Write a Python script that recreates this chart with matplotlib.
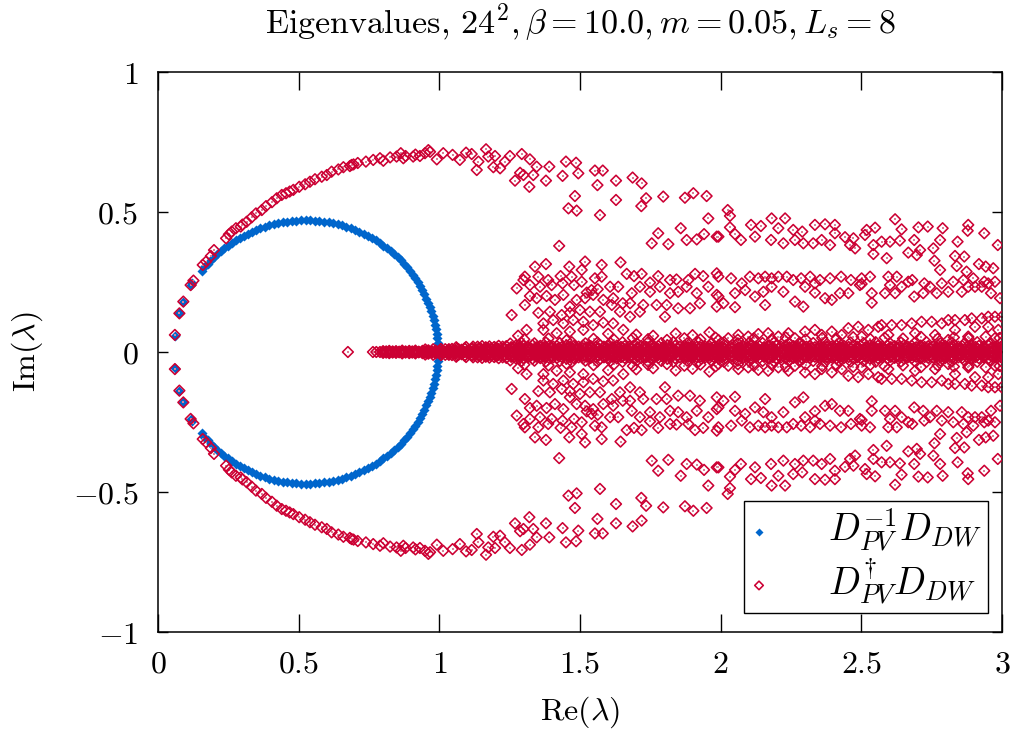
import numpy as np
import matplotlib
matplotlib.use('Agg')
import matplotlib.pyplot as plt

plt.rcParams['mathtext.fontset'] = 'cm'
plt.rcParams['font.family'] = 'serif'
plt.rcParams['font.serif'] = ['DejaVu Serif']

# ---------------- text ----------------
title = r'$\mathrm{Eigenvalues,}\,24^2, \beta = 10.0, m = 0.05, L_s = 8$'
xlabel = r'$\mathrm{Re}(\lambda)$'
ylabel = r'$\mathrm{Im}(\lambda)$'
xticks = [0, 0.5, 1, 1.5, 2, 2.5, 3]
xticklabels = [r'$0$', r'$0.5$', r'$1$', r'$1.5$', r'$2$', r'$2.5$', r'$3$']
yticks = [-1, -0.5, 0, 0.5, 1]
yticklabels = [r'$-1$', r'$-0.5$', r'$0$', r'$0.5$', r'$1$']
series_labels = [r'$D_{PV}^{-1}D_{DW}$', r'$D_{PV}^{\dagger}D_{DW}$']

# ---------------- data (upper half, Im >= 0; spectrum is conjugate-symmetric) ----------------
blue_x = [0.060, 0.076, 0.090, 0.116, 0.121,
          0.155, 0.165, 0.176, 0.188, 0.199, 0.211, 0.223, 0.236, 0.249, 0.262,
          0.276, 0.290, 0.304, 0.319, 0.334, 0.349, 0.364, 0.380, 0.395, 0.411,
          0.427, 0.443, 0.460, 0.476, 0.492, 0.509, 0.525, 0.541, 0.558, 0.574,
          0.590, 0.607, 0.623, 0.639, 0.655, 0.670, 0.686, 0.701, 0.716, 0.731,
          0.746, 0.760, 0.774, 0.788, 0.801, 0.814, 0.827, 0.839, 0.852, 0.863,
          0.874, 0.885, 0.895, 0.905, 0.915, 0.924, 0.932, 0.940, 0.947, 0.954,
          0.961, 0.967, 0.972, 0.977, 0.981, 0.985, 0.988, 0.990, 0.992, 0.994,
          0.995, 0.995]
blue_y = [0.057, 0.138, 0.180, 0.239, 0.248,
          0.289, 0.302, 0.315, 0.327, 0.338, 0.349, 0.360, 0.370, 0.380, 0.390,
          0.399, 0.407, 0.415, 0.422, 0.429, 0.436, 0.442, 0.447, 0.452, 0.456,
          0.460, 0.463, 0.465, 0.467, 0.469, 0.470, 0.470, 0.470, 0.469, 0.467,
          0.465, 0.463, 0.460, 0.456, 0.452, 0.447, 0.442, 0.436, 0.429, 0.422,
          0.415, 0.407, 0.399, 0.390, 0.380, 0.370, 0.360, 0.349, 0.338, 0.327,
          0.315, 0.302, 0.289, 0.276, 0.263, 0.249, 0.235, 0.221, 0.206, 0.191,
          0.176, 0.161, 0.145, 0.130, 0.114, 0.098, 0.082, 0.065, 0.049, 0.033,
          0.016, 0.0]

red_outer = [(.060,.061),(.076,.138),(.090,.180),(.116,.239),(.126,.255),(.159,.311),(.171,.323),
    (.188,.343),(.199,.364),(.242,.406),(.252,.420),(.262,.430),(.277,.442),(.294,.448),(.300,.455),
    (.315,.465),(.333,.481),(.348,.495),(.369,.507),(.384,.521),(.405,.535),(.422,.549),(.440,.561),
    (.455,.567),(.468,.573),(.481,.579),(.502,.590),(.523,.599),(.540,.608),(.558,.617),(.582,.626),
    (.600,.632),(.617,.644),(.641,.652),(.659,.660),(.682,.664),(.688,.668),(.695,.670),(.710,.675),
    (.739,.680),(.765,.686),(.789,.692),(.801,.683),(.825,.695),(.848,.698),(.863,.710),(.872,.692),
    (.880,.700),(.907,.698),(.915,.705),(.931,.700),(.949,.710),(.961,.721),(.991,.688),(.967,.715),
    (1.014,.710),(1.047,.704),(1.073,.686),(1.095,.712),(1.115,.707),(1.139,.680),(1.133,.650),
    (1.166,.724),(1.174,.698),(1.198,.700),(1.192,.660),(1.216,.656),(1.233,.680),(1.251,.700),
    (1.269,.612),(1.287,.640),(1.293,.707),(1.299,.632),(1.320,.590),(1.322,.688),(1.334,.632),
    (1.346,.662),(1.379,.612),(1.391,.662),(1.438,.629),(1.450,.680),(1.486,.676),(1.494,.638),
    (1.482,.557),(1.459,.513),(1.488,.505),(1.553,.648),(1.562,.596),(1.581,.648),(1.571,.489),
    (1.628,.612),(1.628,.543),(1.687,.623),(1.719,.602),(1.735,.549),(1.718,.521),(1.796,.555),
    (1.873,.551),(1.903,.567),(1.950,.557),(1.956,.477),(1.858,.442),(1.778,.424),(1.755,.388),
    (1.814,.385),(1.879,.400),(1.915,.402),(1.941,.421),(1.986,.412),(1.426,.379)]

red_band45 = [(2.025,.507),(2.033,.486),(1.992,.412),(2.033,.445),(2.051,.421),(2.072,.400),(2.108,.454),
    (2.143,.450),(2.122,.412),(2.181,.477),(2.205,.442),(2.229,.477),(2.179,.400),(2.223,.388),
    (2.258,.436),(2.290,.430),(2.264,.400),(2.294,.388),(2.329,.388),(2.335,.454),(2.371,.456),
    (2.406,.454),(2.359,.400),(2.389,.382),(2.406,.424),(2.442,.410),(2.472,.406),(2.460,.382),
    (2.478,.370),(2.519,.436),(2.549,.444),(2.513,.418),(2.543,.382),(2.543,.350),(2.590,.335),
    (2.572,.394),(2.602,.394),(2.637,.398),(2.620,.474),(2.643,.438),(2.703,.445),(2.736,.448),
    (2.789,.442),(2.688,.400),(2.667,.355),(2.697,.346),(2.709,.364),(2.756,.370),(2.760,.326),
    (2.780,.293),(2.780,.400),(2.842,.394),(2.833,.343),(2.866,.341),(2.839,.307),(2.880,.454),
    (2.878,.433),(2.937,.424),(2.918,.314),(2.942,.305),(2.969,.299),(2.874,.287),(2.985,.382)]

red_band25 = [(1.340,.305),(1.379,.314),(1.462,.305),(1.518,.323),(1.577,.311),(1.644,.320),
    (1.304,.269),(1.352,.269),(1.387,.257),(1.431,.271),(1.470,.269),(1.506,.293),(1.553,.263),
    (1.577,.269),(1.275,.227),(1.299,.257),(1.322,.239),(1.358,.233),(1.399,.239),(1.438,.245),
    (1.479,.239),(1.506,.251),(1.524,.212),(1.541,.221),(1.563,.224),(1.607,.233),(1.636,.233),
    (1.666,.279),(1.692,.271),(1.719,.279),(1.749,.248),(1.778,.271),(1.820,.257),(1.843,.259),
    (1.885,.257),(1.909,.279),(1.938,.271),(1.986,.281),(1.257,.132),(1.304,.168),(1.322,.200),
    (1.346,.192),(1.381,.200),(1.411,.186),(1.441,.204),(1.464,.162),(1.488,.186),(1.518,.192),
    (1.547,.204),(1.583,.186),(1.618,.192),(1.652,.174),(1.684,.210),(1.713,.233),(1.749,.215),
    (1.784,.233),(1.820,.210),(1.849,.215),(1.879,.233),(1.915,.210),(1.956,.233),(1.986,.204),
    (1.678,.174),(1.725,.168),(1.772,.168),(1.808,.168),(1.849,.156),(1.891,.156),(1.926,.174),
    (1.986,.162),(1.352,.140),(1.393,.144),(1.435,.132),(1.464,.140),(1.500,.150),(1.535,.144),
    (1.571,.144),(1.613,.168),(1.642,.144),(1.678,.126),(1.713,.144),(1.802,.126),
    (1.992,.269),(2.037,.263),(2.075,.245),(2.104,.269),(2.134,.263),(2.158,.269),(2.181,.263),
    (2.205,.269),(2.235,.269),(2.258,.257),(2.286,.263),(2.318,.269),(2.353,.257),(2.389,.263),
    (2.428,.269),(2.463,.257),(2.501,.263),(2.531,.269),(2.596,.269),(2.626,.269),(2.681,.257),
    (2.724,.245),(2.786,.245),(2.827,.251),(2.863,.257),(2.898,.263),(2.937,.251),(2.975,.251),
    (1.992,.198),(2.010,.174),(2.051,.160),(2.051,.210),(2.087,.221),(2.122,.198),(2.158,.168),
    (2.152,.215),(2.181,.233),(2.223,.215),(2.264,.180),(2.294,.162),(2.300,.233),(2.335,.212),
    (2.371,.192),(2.395,.186),(2.424,.210),(2.454,.210),(2.495,.239),(2.537,.210),(2.537,.176),
    (2.584,.210),(2.620,.210),(2.643,.233),(2.688,.198),(2.720,.210),(2.744,.233),(2.768,.210),
    (2.809,.215),(2.857,.215),(2.904,.233),(2.928,.233),(2.961,.210),(2.993,.192),(2.335,.245),
    (2.501,.243),(2.602,.239),(2.667,.251),(2.880,.233),(2.951,.245)]

red_band10 = [(1.310,.079),(1.370,.102),(1.405,.114),(1.441,.102),(1.476,.114),(1.512,.108),
    (1.547,.096),(1.583,.105),(1.618,.102),(1.654,.079),(1.370,.079),(1.417,.067),(1.464,.073),
    (1.512,.079),(1.280,.058),(1.600,.065),(1.700,.062),(1.760,.058),(1.840,.066),(1.900,.060),
    (1.960,.070),(1.992,.043),(2.027,.049),(2.063,.061),(2.098,.055),(2.134,.064),(2.169,.067),
    (2.205,.055),(2.241,.067),(2.264,.049),(2.300,.073),(2.335,.079),(2.359,.061),(2.395,.073),
    (2.430,.061),(2.454,.085),(2.489,.090),(2.525,.079),(2.560,.090),(2.572,.096),(2.608,.096),
    (2.643,.096),(2.679,.102),(2.714,.108),(2.750,.108),(2.786,.102),(2.809,.114),(2.833,.114),
    (2.868,.114),(2.892,.120),(2.928,.120),(2.951,.126),(2.975,.126),(2.999,.126),(2.501,.055),
    (2.596,.061),(2.691,.067),(2.762,.061),(2.833,.079),(2.904,.090),(2.951,.090),(2.987,.079),
    (2.975,.049),(2.880,.055),(2.809,.043)]

red_core1 = [(0.800,.003),(0.822,.004),(0.846,.003),(0.868,.005),(0.893,.004),(0.915,.005),(0.940,.004),
    (0.961,.006),(0.987,.005),(1.010,.006),(1.033,.007),(1.057,.006),(1.079,.008),(1.104,.007),
    (1.126,.008),(1.151,.007),(1.173,.009),(1.198,.008),(1.220,.007),(1.245,.009),(1.268,.008),
    (1.292,.007),(1.315,.009),(1.340,.008),(1.362,.006),(1.387,.009),(1.410,.008),(1.434,.007),
    (1.457,.009),(1.482,.008),(1.505,.006),(1.529,.009),(1.552,.008),(1.577,.007),(1.600,.009),
    (1.624,.008),(1.647,.006),(1.672,.009),(1.695,.008),(1.719,.007),(1.743,.009),(1.766,.008),
    (1.790,.006),(1.814,.009),(1.837,.008),(1.861,.007),(1.885,.009),(1.908,.008),(1.932,.006),
    (1.956,.009),(1.979,.008),(2.003,.007),(2.027,.009),(2.050,.008),(2.074,.006),(2.098,.009),
    (2.121,.008),(2.145,.007),(2.169,.009),(2.192,.008),(2.216,.006),(2.240,.009),(2.263,.008),
    (2.287,.007),(2.311,.009),(2.334,.008),(2.358,.006),(2.382,.009),(2.405,.008),(2.429,.007),
    (2.453,.009),(2.476,.008),(2.500,.006),(2.524,.009),(2.547,.008),(2.571,.007),(2.595,.009),
    (2.618,.008),(2.642,.006),(2.666,.009),(2.689,.008),(2.713,.007),(2.737,.009),(2.760,.008),
    (2.784,.006),(2.808,.009),(2.831,.008),(2.855,.007),(2.879,.009),(2.902,.008),(2.926,.006),
    (2.950,.009),(2.973,.008),(2.995,.007)]

red_core1b = [(0.811,.002),(0.834,.002),(0.857,.001),(0.880,.002),(0.904,.002),(0.927,.001),(0.950,.002),
    (0.974,.002),(0.998,.003),(1.021,.010),(1.045,.011),(1.068,.010),(1.091,.011),(1.115,.012),
    (1.138,.011),(1.162,.010),(1.185,.012),(1.209,.011),(1.232,.010),(1.256,.012),(1.280,.011),
    (1.303,.010),(1.327,.012),(1.351,.011),(1.374,.010),(1.398,.012),(1.422,.011),(1.445,.010),
    (1.469,.012),(1.493,.011),(1.517,.010),(1.540,.012),(1.564,.011),(1.588,.010),(1.612,.012),
    (1.635,.011),(1.659,.010),(1.683,.012),(1.707,.011),(1.731,.010),(1.754,.012),(1.778,.011),
    (1.802,.010),(1.825,.012),(1.849,.011),(1.873,.010),(1.896,.012),(1.920,.011),(1.944,.010),
    (1.967,.012),(1.991,.011),(2.015,.010),(2.038,.012),(2.062,.011),(2.086,.010),(2.109,.012),
    (2.133,.011),(2.157,.010),(2.180,.012),(2.204,.011),(2.228,.010),(2.251,.012),(2.275,.011),
    (2.299,.010),(2.322,.012),(2.346,.011),(2.370,.010),(2.393,.012),(2.417,.011),(2.441,.010),
    (2.464,.012),(2.488,.011),(2.512,.010),(2.535,.012),(2.559,.011),(2.583,.010),(2.606,.012),
    (2.630,.011),(2.654,.010),(2.677,.012),(2.701,.011),(2.725,.010),(2.748,.012),(2.772,.011),
    (2.796,.010),(2.819,.012),(2.843,.011),(2.867,.010),(2.890,.012),(2.914,.011),(2.938,.010),
    (2.961,.012),(2.984,.011)]

red_core2 = [(0.950,.009),(0.978,.010),(1.006,.011),(1.034,.010),(1.062,.012),(1.090,.013),(1.118,.012),
    (1.146,.014),(1.174,.013),(1.202,.015),(1.230,.014),(1.258,.016),(1.286,.014),(1.314,.015),
    (1.342,.013),(1.370,.016),(1.398,.014),(1.426,.015),(1.454,.013),(1.482,.016),(1.510,.014),
    (1.538,.015),(1.566,.013),(1.594,.016),(1.622,.014),(1.650,.015),(1.678,.013),(1.706,.016),
    (1.734,.014),(1.762,.015),(1.790,.013),(1.818,.016),(1.846,.014),(1.874,.015),(1.902,.013),
    (1.930,.016),(1.958,.014),(1.986,.015),(2.014,.013),(2.042,.016),(2.070,.014),(2.098,.015),
    (2.126,.013),(2.154,.016),(2.182,.014),(2.210,.015),(2.238,.013),(2.266,.016),(2.294,.014),
    (2.322,.015),(2.350,.013),(2.378,.016),(2.406,.014),(2.434,.015),(2.462,.013),(2.490,.016),
    (2.518,.014),(2.546,.015),(2.574,.013),(2.602,.016),(2.630,.014),(2.658,.015),(2.686,.013),
    (2.714,.016),(2.742,.014),(2.770,.015),(2.798,.013),(2.826,.016),(2.854,.014),(2.882,.015),
    (2.910,.013),(2.938,.016),(2.966,.014),(2.994,.015)]

red_core3 = [(1.120,.019),(1.152,.021),(1.178,.020),(1.211,.022),(1.238,.021),(1.272,.023),(1.298,.022),
    (1.331,.024),(1.359,.022),(1.392,.023),(1.418,.021),(1.452,.024),(1.479,.022),(1.511,.023),
    (1.538,.021),(1.572,.024),(1.598,.022),(1.631,.023),(1.659,.021),(1.692,.024),(1.718,.022),
    (1.752,.023),(1.779,.021),(1.811,.024),(1.838,.022),(1.872,.023),(1.898,.021),(1.931,.024),
    (1.959,.022),(1.992,.023),(2.018,.021),(2.052,.024),(2.079,.022),(2.111,.023),(2.138,.021),
    (2.172,.024),(2.198,.022),(2.231,.023),(2.259,.021),(2.292,.024),(2.318,.022),(2.352,.023),
    (2.379,.021),(2.411,.024),(2.438,.022),(2.472,.023),(2.498,.021),(2.531,.024),(2.559,.022),
    (2.592,.023),(2.618,.021),(2.652,.024),(2.679,.022),(2.711,.023),(2.738,.021),(2.772,.024),
    (2.798,.022),(2.831,.023),(2.859,.021),(2.892,.024),(2.918,.022),(2.952,.023),(2.981,.021)]

red_core3b = [(1.060,.017),(1.095,.018),(1.136,.019),(1.165,.017),(1.195,.018),(1.225,.019),(1.255,.017),
    (1.285,.018),(1.315,.019),(1.345,.017),(1.375,.018),(1.405,.019),(1.435,.017),(1.465,.018),
    (1.495,.019),(1.525,.017),(1.555,.018),(1.585,.019),(1.615,.017),(1.645,.018),(1.675,.019),
    (1.705,.017),(1.735,.018),(1.765,.019),(1.795,.017),(1.825,.018),(1.855,.019),(1.885,.017),
    (1.915,.018),(1.945,.019),(1.975,.017),(2.005,.018),(2.035,.019),(2.065,.017),(2.095,.018),
    (2.125,.019),(2.155,.017),(2.185,.018),(2.215,.019),(2.245,.017),(2.275,.018),(2.305,.019),
    (2.335,.017),(2.365,.018),(2.395,.019),(2.425,.017),(2.455,.018),(2.485,.019),(2.515,.017),
    (2.545,.018),(2.575,.019),(2.605,.017),(2.635,.018),(2.665,.019),(2.695,.017),(2.725,.018),
    (2.755,.019),(2.785,.017),(2.815,.018),(2.845,.019),(2.875,.017),(2.905,.018),(2.935,.019),
    (2.965,.017),(2.995,.018)]

red_core4 = [(1.252,.030),(1.291,.033),(1.338,.031),(1.379,.034),(1.428,.032),(1.471,.035),(1.519,.031),
    (1.562,.034),(1.608,.032),(1.651,.035),(1.702,.031),(1.741,.034),(1.789,.032),(1.832,.035),
    (1.881,.031),(1.922,.034),(1.968,.032),(2.012,.035),(2.061,.031),(2.102,.034),(2.149,.032),
    (2.191,.035),(2.242,.031),(2.281,.034),(2.329,.032),(2.372,.035),(2.421,.031),(2.462,.034),
    (2.508,.032),(2.551,.035),(2.602,.031),(2.641,.034),(2.689,.032),(2.732,.035),(2.781,.031),
    (2.822,.034),(2.868,.032),(2.912,.035),(2.961,.031),(2.998,.034)]

red_core5 = [(1.302,.045),(1.388,.048),(1.452,.042),(1.548,.047),(1.621,.044),(1.688,.050),(1.742,.046),
    (1.809,.043),(1.871,.049),(1.928,.045),(1.982,.051),(2.061,.044),(2.118,.049),(2.182,.046),
    (2.231,.052),(2.302,.045),(2.361,.050),(2.412,.047),(2.471,.053),(2.532,.046),(2.583,.051),
    (2.648,.048),(2.712,.054),(2.771,.047),(2.829,.052),(2.881,.049),(2.942,.055),(2.991,.050)]

# purely real eigenvalues (Im = 0)
red_real_x = [0.675, 0.764, 0.776, 0.789, 0.800, 0.812, 0.823, 0.835, 0.846, 0.858, 0.869, 0.880,
    0.892, 0.903, 0.915, 0.926, 0.938, 0.950, 0.961, 0.973, 0.985, 0.996, 1.008, 1.020, 1.031,
    1.043, 1.055, 1.067, 1.079, 1.090, 1.102, 1.115, 1.127, 1.139, 1.151, 1.163, 1.176, 1.188,
    1.200, 1.213, 1.226, 1.238, 1.251, 1.264, 1.277, 1.290, 1.303, 1.316, 1.329, 1.342, 1.355,
    1.369, 1.382, 1.396, 1.410, 1.424, 1.437, 1.451, 1.466, 1.480, 1.494, 1.508, 1.523, 1.538,
    1.552, 1.567, 1.582, 1.597, 1.612, 1.628, 1.643, 1.659, 1.674, 1.690, 1.706, 1.722, 1.738,
    1.755, 1.771, 1.788, 1.805, 1.822, 1.839, 1.856, 1.873, 1.891, 1.909, 1.926, 1.944, 1.962,
    1.980, 1.999, 2.017, 2.036, 2.055, 2.074, 2.093, 2.112, 2.132, 2.151, 2.171, 2.191, 2.211,
    2.231, 2.252, 2.272, 2.293, 2.314, 2.335, 2.356, 2.377, 2.399, 2.420, 2.442, 2.464, 2.486,
    2.508, 2.531, 2.553, 2.576, 2.599, 2.622, 2.645, 2.668, 2.692, 2.716, 2.740, 2.764, 2.788,
    2.812, 2.837, 2.862, 2.887, 2.912, 2.937, 2.962, 2.988, 3.000]

# ---------------- assemble full (conjugate-symmetric) spectra ----------------
bx = np.array(blue_x)
by = np.array(blue_y)
blue_all_x = np.concatenate([bx, bx])
blue_all_y = np.concatenate([by, -by])

upper = np.array(red_outer + red_band45 + red_band25 + red_band10 +
                 red_core1 + red_core1b + red_core2 + red_core3 + red_core3b +
                 red_core4 + red_core5)
rreal = np.array(red_real_x)
red_all_x = np.concatenate([upper[:, 0], upper[:, 0], rreal])
red_all_y = np.concatenate([upper[:, 1], -upper[:, 1], np.zeros_like(rreal)])

blue_c = '#0066cc'
red_c = '#cc0033'

fig = plt.figure(figsize=(10.12, 7.36), dpi=100)
ax = fig.add_axes([158/1012, 1-632/736, 844/1012, 560/736])

hb = ax.scatter(blue_all_x, blue_all_y, marker='D', s=26, c=blue_c, linewidths=0,
                label=series_labels[0], zorder=2)
# small centre dots of the hollow diamonds, kept below the diamond outlines
ax.scatter(red_all_x, red_all_y, marker='s', s=0.7, c='#d98099', linewidths=0, zorder=2.5)
hr = ax.scatter(red_all_x, red_all_y, marker='D', s=30, facecolors='none',
                edgecolors=red_c, linewidths=1.15, label=series_labels[1], zorder=3)

ax.set_xlim(0, 3)
ax.set_ylim(-1, 1)
ax.set_xticks(xticks)
ax.set_xticklabels(xticklabels, fontsize=23)
ax.set_yticks(yticks)
ax.set_yticklabels(yticklabels, fontsize=23)
ax.tick_params(axis='x', direction='in', length=13, width=1.0, top=True, pad=12)
ax.tick_params(axis='y', direction='in', length=7, width=1.0, right=True, pad=14)
for s in ax.spines.values():
    s.set_linewidth(1.1)

ax.set_xlabel(xlabel, fontsize=23)
ax.xaxis.set_label_coords(0.5, -(712-632)/560)
ax.xaxis.label.set_verticalalignment('center')
ax.set_ylabel(ylabel, fontsize=23)
ax.yaxis.set_label_coords(-(158-27)/844, 0.5)
ax.yaxis.label.set_verticalalignment('center')

fig.text(580/1012, 1-23/736, title, ha='center', va='center', fontsize=24.5)

leg = ax.legend(handles=[hb, hr], labels=series_labels, loc='lower right',
                bbox_to_anchor=(0.983, 0.034), borderaxespad=0, fontsize=27,
                frameon=True, fancybox=False, edgecolor='black', framealpha=1,
                handlelength=0.5, handletextpad=1.6, borderpad=0.15, labelspacing=0.05,
                markerscale=0.8)
leg.get_frame().set_linewidth(1.0)

fig.savefig('out.png', dpi=100)
